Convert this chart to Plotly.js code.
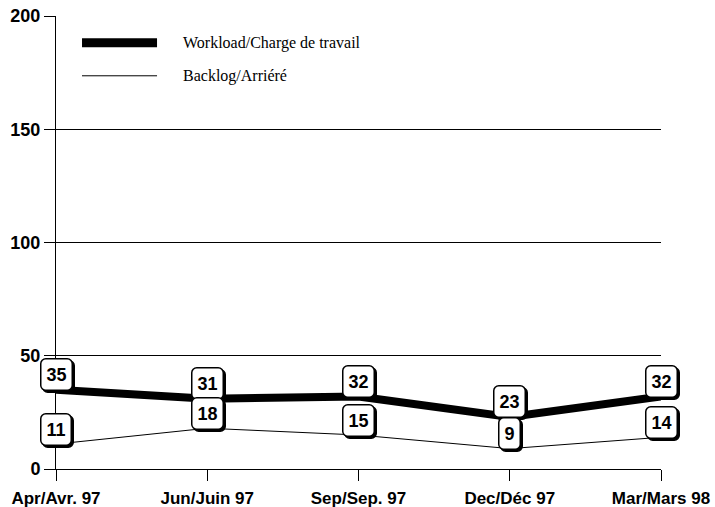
<!DOCTYPE html>
<html>
<head>
<meta charset="utf-8">
<script src="https://cdn.plot.ly/plotly-3.0.1.min.js"></script>
<style>
  body { margin: 0; background: #fff; }
  #chart { width: 715px; height: 507px; }
</style>
</head>
<body>
<div id="chart"></div>
<script>
var periods = ["Apr/Avr. 97", "Jun/Juin 97", "Sep/Sep. 97", "Dec/Déc 97", "Mar/Mars 98"];
var workload = [35, 31, 32, 23, 32];
var backlog = [11, 18, 15, 9, 14];
var seriesNames = ["Workload/Charge de travail", "Backlog/Arriéré"];

var traces = [
    {
        x: periods,
        y: workload,
        name: seriesNames[0],
        type: "scatter",
        mode: "lines",
        line: {color: "black", width: 8},
        hoverinfo: "none"
    },
    {
        x: periods,
        y: backlog,
        name: seriesNames[1],
        type: "scatter",
        mode: "lines",
        line: {color: "black", width: 1},
        hoverinfo: "none"
    }
];

// value boxes above each point
var annotations = [];
function addBoxes(values) {
    for (var i = 0; i < values.length; i++) {
        annotations.push({
            x: periods[i],
            y: values[i],
            xref: "x",
            yref: "y",
            text: "<b>" + values[i] + "</b>",
            showarrow: false,
            font: {family: "Liberation Sans, Arial", size: 18, color: "black"},
            borderpad: 5,
            borderwidth: 1.5,
            bordercolor: "black",
            bgcolor: "white",
            yshift: 15
        });
    }
}
addBoxes(workload);
addBoxes(backlog);

// hand drawn legend (long line samples)
var legendShapes = [
    {type: "line", xref: "paper", yref: "paper", x0: 0.043, x1: 0.167, y0: 0.941, y1: 0.941,
     line: {color: "black", width: 9}},
    {type: "line", xref: "paper", yref: "paper", x0: 0.043, x1: 0.167, y0: 0.868, y1: 0.868,
     line: {color: "black", width: 1}}
];
annotations.push({
    xref: "paper", yref: "paper", x: 0.207, y: 0.941, xanchor: "left", yanchor: "middle",
    text: seriesNames[0], showarrow: false,
    font: {family: "Liberation Serif, Times New Roman", size: 16, color: "black"}
});
annotations.push({
    xref: "paper", yref: "paper", x: 0.207, y: 0.868, xanchor: "left", yanchor: "middle",
    text: seriesNames[1], showarrow: false,
    font: {family: "Liberation Serif, Times New Roman", size: 16, color: "black"}
});

var layout = {
    width: 715,
    height: 507,
    margin: {l: 56, r: 54, t: 16, b: 38},
    paper_bgcolor: "white",
    plot_bgcolor: "white",
    showlegend: false,
    font: {family: "Liberation Sans, Arial", color: "black"},
    xaxis: {
        type: "category",
        range: [0, 4],
        showgrid: false,
        showline: true,
        linecolor: "black",
        linewidth: 1,
        ticks: "outside",
        ticklen: 11,
        tickcolor: "black",
        ticklabelstandoff: 3,
        tickfont: {family: "Liberation Sans, Arial", size: 17, weight: "bold"},
        zeroline: false
    },
    yaxis: {
        range: [0, 200],
        tickvals: [0, 50, 100, 150, 200],
        showgrid: true,
        gridcolor: "black",
        gridwidth: 1,
        showline: true,
        linecolor: "black",
        linewidth: 1,
        ticks: "outside",
        ticklen: 11,
        tickcolor: "black",
        tickfont: {family: "Liberation Sans, Arial", size: 18, weight: "bold"},
        zeroline: false
    },
    shapes: legendShapes,
    annotations: annotations
};

Plotly.newPlot("chart", traces, layout, {displayModeBar: false, staticPlot: true}).then(function(gd) {
    // rounded boxes with a drop shadow, like the original
    var rects = gd.querySelectorAll(".annotation-text-g rect.bg");
    for (var i = 0; i < rects.length; i++) {
        if (rects[i].getAttribute("style") && rects[i].style.strokeWidth !== "0px") {
            rects[i].setAttribute("rx", 5);
            rects[i].setAttribute("ry", 5);
            rects[i].style.filter = "drop-shadow(2px 2px 0 black)";
        }
    }
});
</script>
</body>
</html>
